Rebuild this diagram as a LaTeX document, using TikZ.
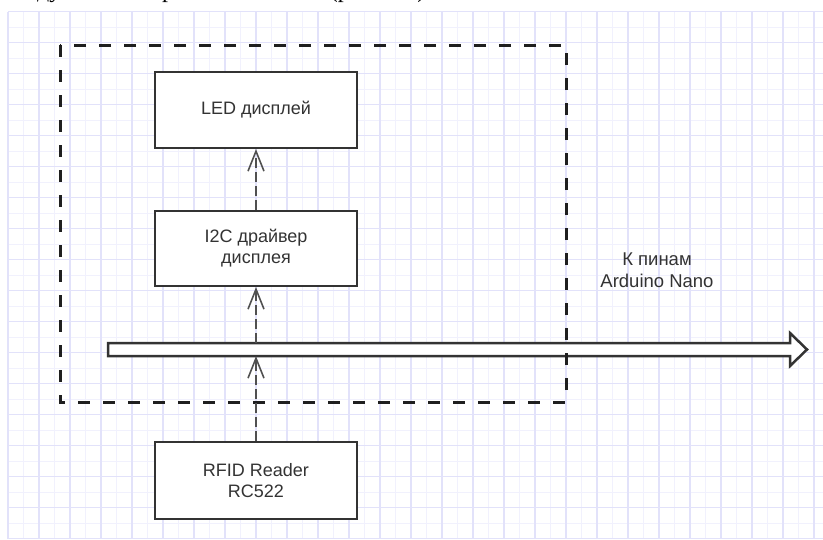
\documentclass[tikz,border=0pt]{standalone}
\usepackage{fontspec}
\setmainfont{Liberation Sans}
\newfontfamily\docserif{Liberation Serif}
\usetikzlibrary{arrows.meta}
\definecolor{gridmaj}{RGB}{226,226,250}
\definecolor{gridmin}{RGB}{241,241,253}
\definecolor{ink}{RGB}{51,51,51}
\definecolor{arrowgray}{RGB}{80,80,80}
\begin{document}
\begin{tikzpicture}[x=1pt,y=-1pt,
  blockbox/.style={draw=ink,line width=2pt,fill=white,minimum width=202pt,
    align=center,text=ink,font=\fontsize{18}{21}\selectfont,inner sep=0pt},
  labeltext/.style={align=center,text=ink,font=\fontsize{18.5}{22}\selectfont,inner sep=0pt},
  container/.style={draw=black!88,line width=3pt,dash pattern=on 12pt off 13pt},
  busarrow/.style={draw=ink,line width=2.5pt,fill=white,line join=miter},
  flow/.style={draw=arrowgray,line width=1.6pt,dash pattern=on 10pt off 4pt,
    -{Straight Barb[length=20pt,width=16pt,line width=1.6pt]}}]
\useasboundingbox (0,0) rectangle (823,539);
\fill[white] (0,0) rectangle (823,539);
% grid
\foreach \i in {1,3,...,51} \draw[gridmin,line width=1pt] ({8+15.5*\i},11.7) -- ({8+15.5*\i},539);
\foreach \j in {1,3,...,33} \draw[gridmin,line width=1pt] (8,{11.7+15.5*\j}) -- (823,{11.7+15.5*\j});
\foreach \i in {0,2,...,52} \draw[gridmaj,line width=1.2pt] ({8+15.5*\i},11.7) -- ({8+15.5*\i},539);
\foreach \j in {0,2,...,34} \draw[gridmaj,line width=1.2pt] (8,{11.7+15.5*\j}) -- (823,{11.7+15.5*\j});
% cut-off line of the surrounding document text
\begin{scope}
\clip (0,0) rectangle (823,539);
\node[anchor=base west,inner sep=0pt,font=\docserif\fontsize{24}{24}\selectfont] (doctext) at (37,-3) {дует смонтировать по схеме (рис. 2.1)};
\end{scope}
% bus arrow
\draw[busarrow] (108,343) -- (790,343) -- (790,333) -- (807,349.5) -- (790,366) -- (790,356) -- (108,356) -- cycle;
\coordinate (bustop) at (256,343);
\coordinate (busbot) at (256,356);
% container
\draw[container] (60,45) rectangle (566,402);
% blocks
\node[blockbox,minimum height=76pt] (led) at (256,110) {LED дисплей};
\node[blockbox,minimum height=75pt] (i2c) at (256,248.5) {I2C драйвер\\дисплея};
\node[blockbox,minimum height=77pt] (rfid) at (256,480.5) {RFID Reader\\RC522};
\node[labeltext] (pins) at (657,270) {К пинам\\Arduino Nano};
% connectors
\draw[flow] (i2c.north) -- (led.south);
\draw[flow] (bustop) -- (i2c.south);
\draw[flow] (rfid.north) -- (busbot);
\end{tikzpicture}
\end{document}
